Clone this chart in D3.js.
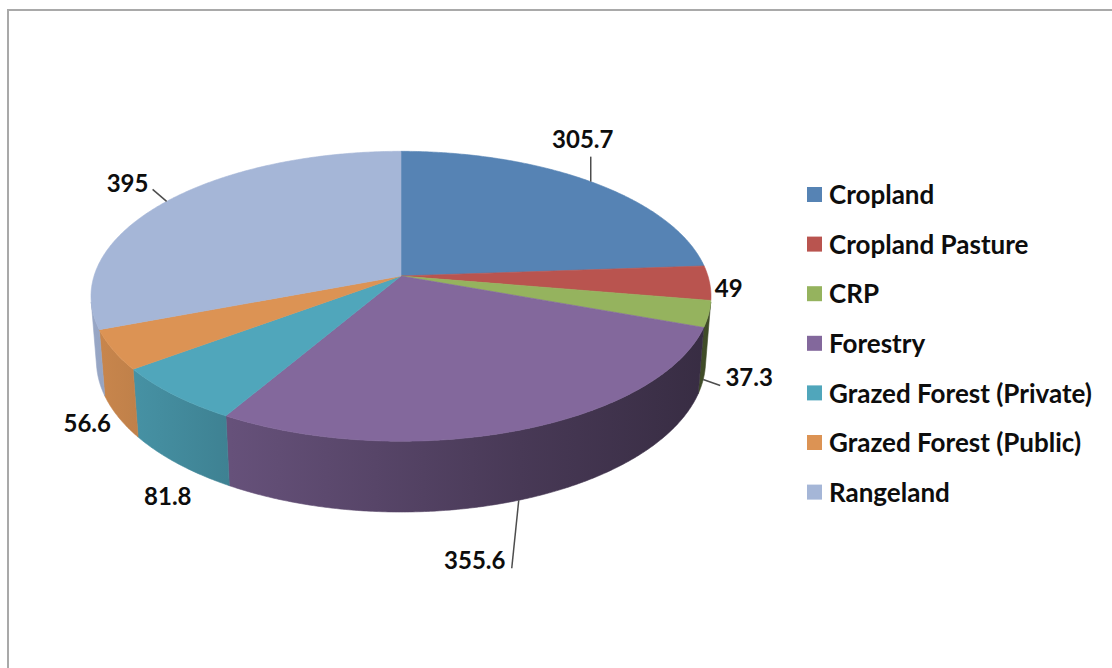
<!DOCTYPE html>
<html>
<head>
<meta charset="utf-8">
<script src="https://cdn.jsdelivr.net/npm/d3@7"></script>
<style>
  body { margin: 0; background: #fff; }
  svg { display: block; }
</style>
</head>
<body>
<div id="chart"></div>
<script>
// data
const categories = ["Cropland", "Cropland Pasture", "CRP", "Forestry",
    "Grazed Forest (Private)", "Grazed Forest (Public)", "Rangeland"];
const values = [305.7, 49, 37.3, 355.6, 81.8, 56.6, 395];
const valueLabels = ["305.7", "49", "37.3", "355.6", "81.8", "56.6", "395"];
const sliceColors = ["#5683b4", "#b9544f", "#95b35e", "#83689c", "#50a6bb", "#dc9354", "#a5b6d7"];

const width = 1112, height = 668;
const font = "Lato, 'Open Sans', sans-serif";

const svg = d3.select("#chart").append("svg")
    .attr("width", width).attr("height", height)
    .attr("viewBox", `0 0 ${width} ${height}`);
const defs = svg.append("defs");

// frame
svg.append("path")
    .attr("d", `M8,${height} L8,10 L${width},10`)
    .attr("fill", "none").attr("stroke", "#a9a9a9").attr("stroke-width", 2);

// perspective projection of a unit-radius disc (u: right, v: toward viewer, h: height)
const cam = { cx: 401, cy: 276, f: 1946, D: 6.34, tilt: Math.asin(0.463), thick: 0.239 };
const sinT = Math.sin(cam.tilt), cosT = Math.cos(cam.tilt);
function project(angle, r, h) {
    const u = r * Math.sin(angle), v = -r * Math.cos(angle);
    const depth = cam.D - v * cosT - h * sinT;
    return [cam.cx + cam.f * u / depth, cam.cy + cam.f * (v * sinT - h * cosT) / depth];
}

const pie = d3.pie().value(d => d.value).sort(null).startAngle(0).endAngle(2 * Math.PI);
const data = categories.map((c, i) => ({ name: c, value: values[i], label: valueLabels[i], color: sliceColors[i] }));
const arcs = pie(data);

// visible part of the outer wall
const kVis = 1 / (cam.D * cosT);
const visStart = Math.acos(-kVis), visEnd = 2 * Math.PI - visStart;
const step = Math.PI / 360;

// side shading: brightness falls off from left to right
const shadeStops = [[90, 0.92], [230, 0.78], [520, 0.55], [712, 0.42]];

const wallG = svg.append("g");
arcs.forEach((a, i) => {
    const s = Math.max(a.startAngle, visStart), e = Math.min(a.endAngle, visEnd);
    if (e <= s) return;
    const grad = defs.append("linearGradient").attr("id", `wall${i}`)
        .attr("gradientUnits", "userSpaceOnUse")
        .attr("x1", shadeStops[0][0]).attr("x2", shadeStops[shadeStops.length - 1][0])
        .attr("y1", 0).attr("y2", 0);
    const span = shadeStops[shadeStops.length - 1][0] - shadeStops[0][0];
    shadeStops.forEach(([x, k]) => {
        grad.append("stop")
            .attr("offset", (x - shadeStops[0][0]) / span)
            .attr("stop-color", d3.interpolateRgb("#000", a.data.color)(k));
    });
    const n = Math.max(2, Math.ceil((e - s) / step));
    const topPts = [], botPts = [];
    for (let j = 0; j <= n; j++) {
        const t = s + (e - s) * j / n;
        topPts.push(project(t, 1, 0));
        botPts.push(project(t, 1, -cam.thick));
    }
    wallG.append("path")
        .attr("d", d3.line()(topPts.concat(botPts.reverse())) + "Z")
        .attr("fill", `url(#wall${i})`).attr("stroke", `url(#wall${i})`).attr("stroke-width", 0.6)
        .attr("class", "mark");
});

// top faces
const topG = svg.append("g");
arcs.forEach(a => {
    const n = Math.max(2, Math.ceil((a.endAngle - a.startAngle) / step));
    const pts = [project(0, 0, 0)];
    for (let i = 0; i <= n; i++) {
        pts.push(project(a.startAngle + (a.endAngle - a.startAngle) * i / n, 1, 0));
    }
    topG.append("path")
        .attr("d", d3.line()(pts) + "Z")
        .attr("fill", a.data.color).attr("stroke", a.data.color).attr("stroke-width", 0.6)
        .attr("stroke-linejoin", "round")
        .attr("class", "mark");
});

// data labels: anchor on the rim (top or bottom edge), leader line and text offsets
const labelLayout = [
    { rim: 0, leader: [0, -25], text: [-8, -42] },
    { rim: 0, leader: null, text: [19, 6] },
    { rim: 1, leader: [17, 6], text: [46, -2] },
    { rim: 1, leader: [-7, 68], text: [-44, 60] },
    { rim: 1, leader: null, text: [-10, 33] },
    { rim: 1, leader: null, text: [-31, 7] },
    { rim: 0, leader: [-14, -12], text: [-39, -18] }
];
const labelG = svg.append("g");
arcs.forEach((a, i) => {
    const L = labelLayout[i];
    const mid = (a.startAngle + a.endAngle) / 2;
    const p = project(mid, 1, L.rim ? -cam.thick : 0);
    if (L.leader) {
        labelG.append("line")
            .attr("x1", p[0]).attr("y1", p[1])
            .attr("x2", p[0] + L.leader[0]).attr("y2", p[1] + L.leader[1])
            .attr("stroke", "#4d4d4d").attr("stroke-width", 1.5);
    }
    labelG.append("text")
        .attr("x", p[0] + L.text[0]).attr("y", p[1] + L.text[1])
        .attr("dy", "0.35em").attr("text-anchor", "middle")
        .style("font-family", font).style("font-size", "24px").style("font-weight", "bold")
        .attr("fill", "#0d0d0d")
        .attr("class", "value")
        .text(a.data.label);
});

// legend
const legend = svg.append("g").attr("transform", "translate(807,195)");
data.forEach((d, i) => {
    const g = legend.append("g").attr("transform", `translate(0,${i * 49.6})`);
    g.append("rect").attr("x", 0).attr("y", -8).attr("width", 15).attr("height", 15)
        .attr("fill", d.color).attr("class", "mark");
    g.append("text").attr("x", 22).attr("y", 0).attr("dy", "0.35em")
        .style("font-family", font).style("font-size", "26px").style("font-weight", "bold")
        .attr("fill", "#0d0d0d").attr("class", "label")
        .text(d.name);
});
</script>
</body>
</html>
